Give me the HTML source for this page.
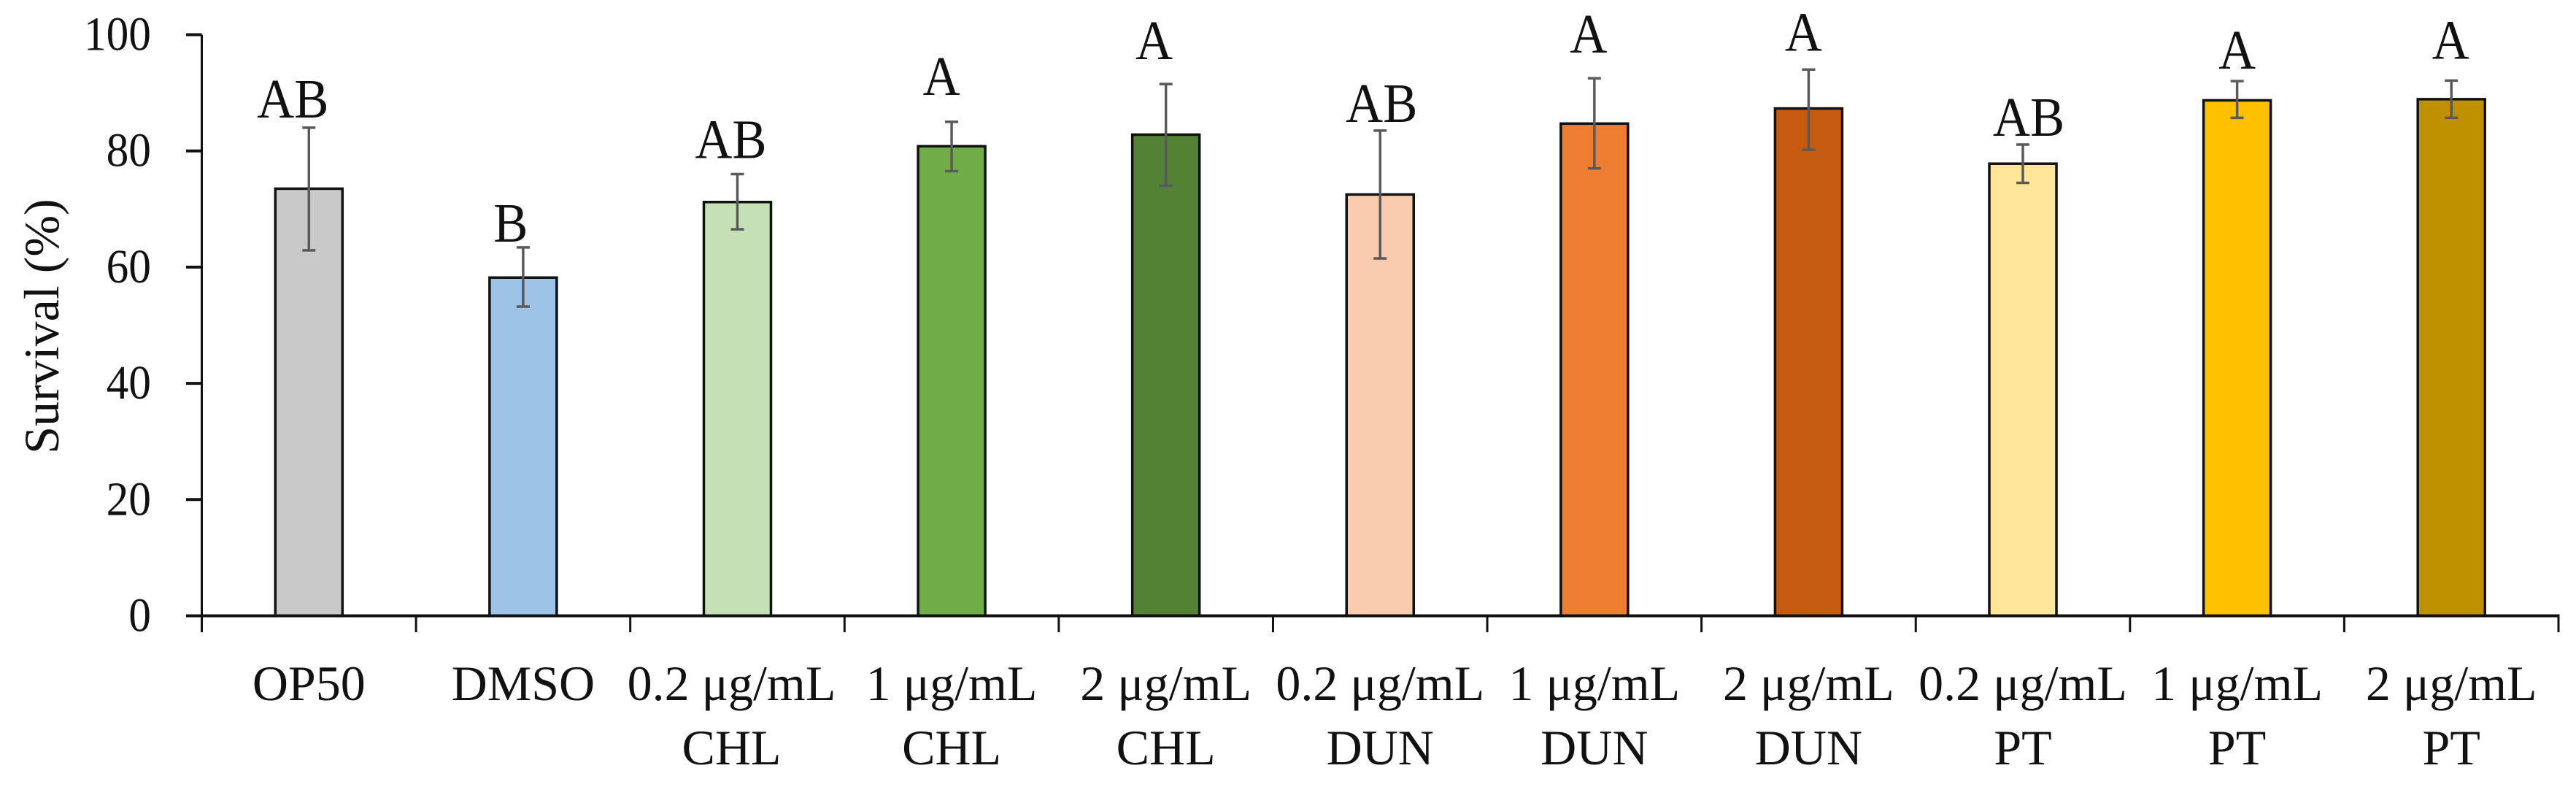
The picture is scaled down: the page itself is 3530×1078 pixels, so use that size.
<!DOCTYPE html>
<html lang="en">
<head>
<meta charset="utf-8">
<title>Survival bar chart</title>
<style>
html,body{margin:0;padding:0;background:#fff;width:3530px;height:1078px;overflow:hidden}
svg{display:block}
text{font-family:"Liberation Serif",serif;fill:#111;font-size:68px}
</style>
</head>
<body>
<svg id="chart" width="3530" height="1078" viewBox="0 0 3530 1078" xmlns="http://www.w3.org/2000/svg">
  <rect x="0" y="0" width="3530" height="1078" fill="#fff"/>
  <text id="ytitle" transform="translate(80 447) rotate(-90)" text-anchor="middle">Survival (%)</text>
  <g id="bars"></g>
  <g id="errors"></g>
  <g id="axes"></g>
  <g id="letters">
    <text class="sig" data-i="0" data-dx="-22" data-gap="14">AB</text>
    <text class="sig" data-i="1" data-dx="-17" data-gap="8">B</text>
    <text class="sig" data-i="2" data-dx="-9" data-gap="22">AB</text>
    <text class="sig" data-i="3" data-dx="-14" data-gap="37">A</text>
    <text class="sig" data-i="4" data-dx="-16" data-gap="34">A</text>
    <text class="sig" data-i="5" data-dx="2" data-gap="12">AB</text>
    <text class="sig" data-i="6" data-dx="-8" data-gap="35">A</text>
    <text class="sig" data-i="7" data-dx="-7" data-gap="26">A</text>
    <text class="sig" data-i="8" data-dx="8" data-gap="12">AB</text>
    <text class="sig" data-i="9" data-dx="0" data-gap="17">A</text>
    <text class="sig" data-i="10" data-dx="-1" data-gap="30">A</text>
  </g>
</svg>
<script>
const categoryLine1 = ["OP50","DMSO","0.2 μg/mL","1 μg/mL","2 μg/mL","0.2 μg/mL","1 μg/mL","2 μg/mL","0.2 μg/mL","1 μg/mL","2 μg/mL"];
const categoryLine2 = ["","","CHL","CHL","CHL","DUN","DUN","DUN","PT","PT","PT"];
const survival = [73.5,58.2,71.2,80.8,82.8,72.5,84.7,87.3,77.8,88.7,88.9];
const errHigh = [84,63.4,76,85,91.5,83.5,92.5,94,81.1,92,92.1];
const errLow = [62.9,53.2,66.5,76.5,74,61.5,77,80.2,74.5,85.7,85.7];
const barColors = ["#c9c9c9","#9dc3e6","#c5e0b4","#70ad47","#548235","#f8cbad","#ed7d31","#c55a11","#ffe699","#ffc000","#bf9000"];
const yTicks = [0,20,40,60,80,100];

const NS = "http://www.w3.org/2000/svg";
const plotLeft = 276.5, plotRight = 3506, y0 = 843.5, y100 = 47.5, barW = 92, capHalf = 9;
const band = (plotRight - plotLeft) / categoryLine1.length;
const xCenter = i => plotLeft + band * (i + 0.5);
const yScale = v => y0 - (y0 - y100) * v / 100;

function make(tag, attrs, parent, txt) {
  const el = document.createElementNS(NS, tag);
  for (const k in attrs) el.setAttribute(k, attrs[k]);
  if (txt !== undefined) el.textContent = txt;
  parent.appendChild(el);
  return el;
}
function stretch(el, k) {
  const len = el.getComputedTextLength();
  el.setAttribute("textLength", (len * k).toFixed(1));
  el.setAttribute("lengthAdjust", "spacingAndGlyphs");
}

const barsG = document.getElementById("bars");
const errG = document.getElementById("errors");
const axesG = document.getElementById("axes");

survival.forEach((v, i) => {
  const r = make("rect", {x: xCenter(i) - barW / 2, y: yScale(v), width: barW, height: y0 - yScale(v), fill: barColors[i], stroke: "#111", "stroke-width": 3.5}, barsG);
  
  

  const g = make("path", {d: `M${xCenter(i)} ${yScale(errHigh[i])}V${yScale(errLow[i])}M${xCenter(i) - capHalf} ${yScale(errHigh[i])}h${capHalf * 2}M${xCenter(i) - capHalf} ${yScale(errLow[i])}h${capHalf * 2}`, fill: "none", stroke: "#5a5a5a", "stroke-width": 3.5}, errG);
  
  
});

const yAxis = make("line", {x1: plotLeft, x2: plotLeft, y1: y100, y2: 866, stroke: "#111", "stroke-width": 3}, axesG);



const xAxis = make("line", {x1: 255, x2: plotRight + 1.5, y1: y0, y2: y0, stroke: "#111", "stroke-width": 4}, axesG);



yTicks.forEach(t => {
  const tick = make("line", {x1: 255, x2: plotLeft, y1: yScale(t), y2: yScale(t), stroke: "#111", "stroke-width": 4}, axesG);
  
  

  const lab = make("text", {x: 207, y: yScale(t) + 21, "text-anchor": "end"}, axesG, String(t));
  lab.style.fontSize = "66px";
  
  
  stretch(lab, 0.93);
});

for (let i = 0; i <= categoryLine1.length; i++) {
  const tick = make("line", {x1: plotLeft + band * i, x2: plotLeft + band * i, y1: y0, y2: 866, stroke: "#111", "stroke-width": 3}, axesG);
  
  
}

const firstChlLabelNudge = -8;
categoryLine1.forEach((c, i) => {
  const nudge = i === 2 ? firstChlLabelNudge : 0;
  const a = make("text", {x: xCenter(i) + nudge, y: 959, "text-anchor": "middle"}, axesG, c);
  
  
  if (categoryLine2[i]) {
    const b = make("text", {x: xCenter(i) + nudge, y: 1047, "text-anchor": "middle"}, axesG, categoryLine2[i]);
    
    
  }
});

document.querySelectorAll("#letters .sig").forEach(t => {
  const i = +t.dataset.i;
  t.setAttribute("x", xCenter(i) + (+t.dataset.dx));
  t.setAttribute("y", yScale(errHigh[i]) - (+t.dataset.gap));
  t.setAttribute("text-anchor", "middle");
  t.style.fontSize = "76px";
  stretch(t, 0.93);
});
</script>
</body>
</html>
